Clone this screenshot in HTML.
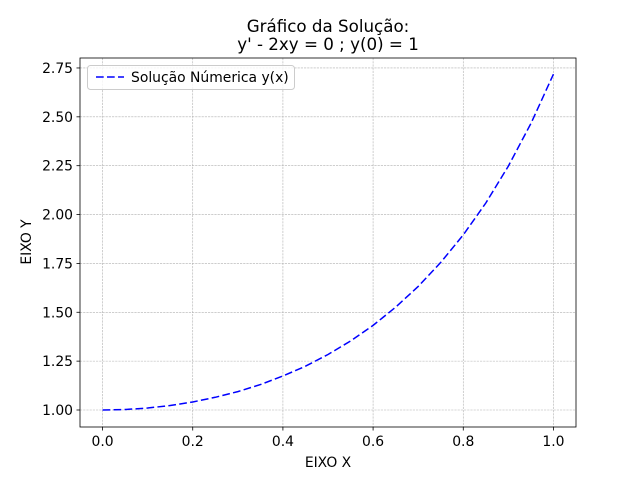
<!DOCTYPE html>
<html><head><meta charset="utf-8"><style>
body{margin:0;background:#fff;}
svg{display:block;font-family:"DejaVu Sans","Liberation Sans",sans-serif;}
</style></head><body>
<svg id="chart" width="640" height="480">
<rect width="640" height="480" fill="#fff"/>
<text x="328" y="32" font-size="16.7" text-anchor="middle">Gráfico da Solução:</text>
<text x="328" y="50" font-size="16.7" text-anchor="middle">y' - 2xy = 0 ; y(0) = 1</text>
<g id="grid"></g>
<g id="ticks"></g>
<path id="line" fill="none" stroke="#0000ff" stroke-width="1.5" stroke-dasharray="7.7,3.3"/>
<rect x="80" y="58" width="496" height="369" fill="none" stroke="#000" stroke-width="0.8"/>
<text x="328" y="467" font-size="13.9" text-anchor="middle">EIXO X</text>
<text x="31" y="242" font-size="13.9" text-anchor="middle" transform="rotate(-90 31 242)">EIXO Y</text>
<g>
<rect x="87.5" y="65.5" width="207" height="24" rx="3" fill="#fff" fill-opacity="0.8" stroke="#ccc"/>
<line x1="96" y1="77" x2="124" y2="77" stroke="#0000ff" stroke-width="1.5" stroke-dasharray="7.7,3.3"/>
<text x="131" y="82" font-size="13.9">Solução Númerica y(x)</text>
</g>
</svg>
<script>
const xs=[0,0.05,0.1,0.15,0.2,0.25,0.3,0.35,0.4,0.45,0.5,0.55,0.6,0.65,0.7,0.75,0.8,0.85,0.9,0.95,1];
const ys=[1,1.0025,1.010,1.023,1.041,1.065,1.094,1.130,1.174,1.224,1.284,1.353,1.433,1.526,1.632,1.755,1.896,2.059,2.248,2.466,2.718];
const xTicks=[0,0.2,0.4,0.6,0.8,1.0];
const xTickLabels=["0.0","0.2","0.4","0.6","0.8","1.0"];
const yTicks=[1,1.25,1.5,1.75,2,2.25,2.5,2.75];
const yTickLabels=["1.00","1.25","1.50","1.75","2.00","2.25","2.50","2.75"];
const L=80,R=576,T=58,B=427;
const xmin=-0.05,xmax=1.05,ymin=0.913,ymax=2.801;
const sx=v=>L+(v-xmin)/(xmax-xmin)*(R-L);
const sy=v=>B-(v-ymin)/(ymax-ymin)*(B-T);
const NS="http://www.w3.org/2000/svg";
const grid=document.getElementById('grid'),ticks=document.getElementById('ticks');
function mk(tag,attrs,parent){const e=document.createElementNS(NS,tag);for(const k in attrs)e.setAttribute(k,attrs[k]);parent.appendChild(e);return e;}
xTicks.forEach((v,i)=>{const x=sx(v);
 const g=mk('line',{x1:x,x2:x,y1:T,y2:B,stroke:'#b0b0b0','stroke-width':0.6,'stroke-dasharray':'2.2,1'},grid);
 
 
 const t=mk('line',{x1:x,x2:x,y1:B,y2:B+3.5,stroke:'#000','stroke-width':0.8},ticks);
 
 
 const l=mk('text',{x:x,y:B+19,'font-size':13.9,'text-anchor':'middle'},ticks);l.textContent=xTickLabels[i];
 
 
});
yTicks.forEach((v,i)=>{const y=sy(v);
 const g=mk('line',{x1:L,x2:R,y1:y,y2:y,stroke:'#b0b0b0','stroke-width':0.6,'stroke-dasharray':'2.2,1'},grid);
 
 
 const t=mk('line',{x1:L-3.5,x2:L,y1:y,y2:y,stroke:'#000','stroke-width':0.8},ticks);
 
 
 const l=mk('text',{x:L-7,y:y+5,'font-size':13.9,'text-anchor':'end'},ticks);l.textContent=yTickLabels[i];
 
 
});
document.getElementById('line').setAttribute('d',xs.map((x,i)=>(i?'L':'M')+sx(x).toFixed(2)+','+sy(ys[i]).toFixed(2)).join(''));
</script>
</body></html>
